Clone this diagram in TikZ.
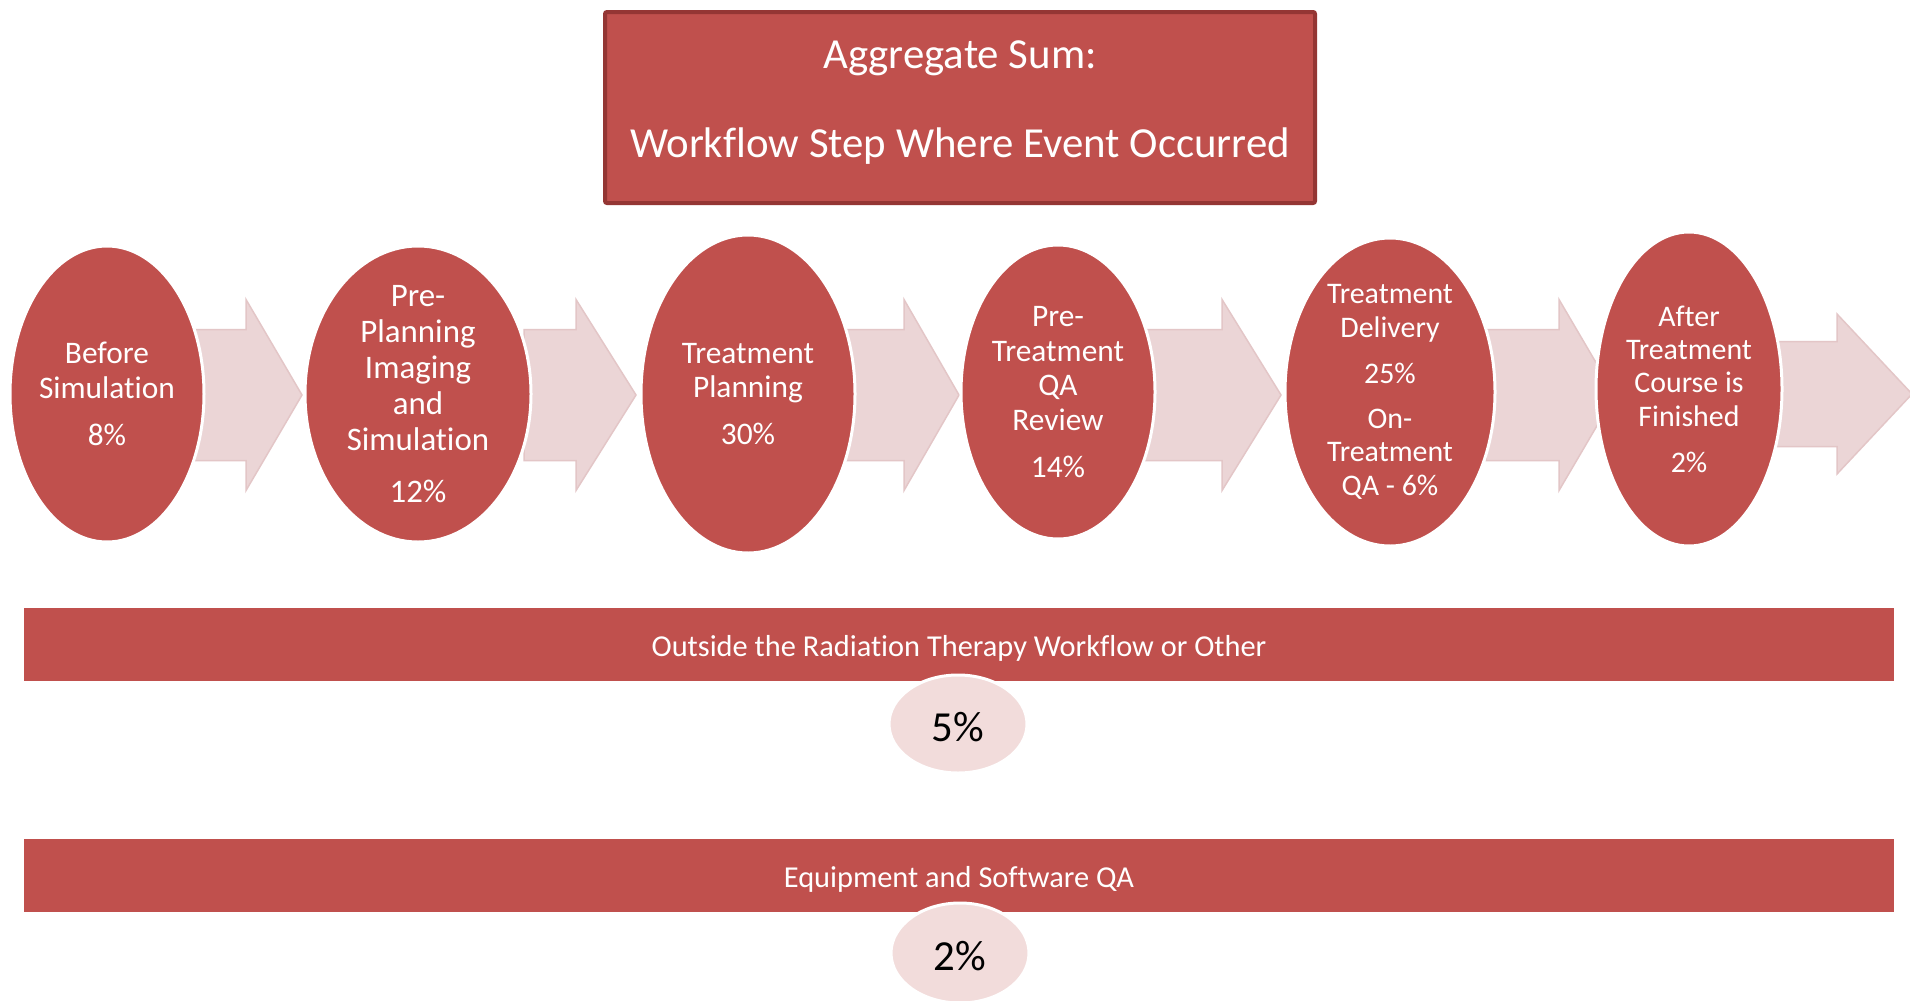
\documentclass[tikz,border=0pt]{standalone}
\usepackage{fontspec}
\setmainfont{Carlito}[Ligatures=NoCommon]
\usetikzlibrary{shapes.geometric}
\definecolor{redfill}{HTML}{C0504D}
\definecolor{redline}{HTML}{943634}
\definecolor{arrfill}{HTML}{EBD5D6}
\definecolor{arrline}{HTML}{E3C6C7}
\definecolor{pinkfill}{HTML}{F2DCDB}
\newcommand{\wfarrow}[6]{% start, base, tip, cy, shafthalf, headhalf
  \draw[flowarrow] (#1,#4-#5) -- (#2,#4-#5) -- (#2,#4-#6) -- (#3,#4) -- (#2,#4+#6) -- (#2,#4+#5) -- (#1,#4+#5) -- cycle;}
\begin{document}
\begin{tikzpicture}[x=1bp,y=-1bp,
  stage/.style={ellipse, fill=redfill, draw=white, line width=3bp, inner sep=0pt},
  stagetext/.style={text=white, align=center, font=\fontsize{31.5}{35}\selectfont, inner sep=0pt},
  flowarrow/.style={fill=arrfill, draw=arrline, line width=1.5bp},
  band/.style={rectangle, fill=redfill, inner sep=0pt, text=white, font=\fontsize{30.5}{36}\selectfont,
               minimum width=1870bp, minimum height=73bp, text height=31bp, text depth=6.5bp},
  share/.style={ellipse, fill=pinkfill, draw=white, line width=3bp, inner sep=0pt,
                font=\fontsize{43}{50}\selectfont, text=black, text height=35bp, text depth=0bp}
]
\path[fill=white] (0,0) rectangle (1910,1000);
\clip (0,0) rectangle (1910,1000);

% title
\node[rectangle, fill=redfill, draw=redline, line width=4bp, rounded corners=2bp,
      minimum width=710bp, minimum height=191bp] (title) at (960,107.5) {};
\node[text=white, align=center, inner sep=0pt, font=\fontsize{43}{52}\selectfont]
      (titletext) at ([yshift=5bp]title.center)
      {Aggregate Sum:\\[37bp]Workflow Step Where Event Occurred};

% arrows
\wfarrow{195}{246}{302}{395}{65.5}{95.5}
\wfarrow{524}{576}{636}{395}{65.5}{95.5}
\wfarrow{846}{904}{959}{395}{65.5}{95.5}
\wfarrow{1145}{1222}{1281}{395}{65.5}{95.5}
\wfarrow{1486}{1559}{1615}{395}{65.5}{95.5}
\wfarrow{1772}{1837}{1912}{394}{52.5}{80}

% stages
\node[stage, minimum width=194bp, minimum height=296bp] (e1) at (107,394) {};
\node[stage, minimum width=226bp, minimum height=296bp] (e2) at (418,394) {};
\node[stage, minimum width=214bp, minimum height=318bp] (e3) at (748,394) {};
\node[stage, minimum width=194bp, minimum height=294bp] (e4) at (1058,392) {};
\node[stage, minimum width=210bp, minimum height=308bp] (e5) at (1390,392) {};
\node[stage, minimum width=186bp, minimum height=314bp] (e6) at (1689,389) {};

\node[stagetext] (t1) at (e1.center) {Before\\Simulation\\[12bp]8\%};
\node[stagetext, font=\fontsize{33}{36.2}\selectfont] (t2) at (e2.center)
  {Pre-\\Planning\\Imaging\\and\\Simulation\\[16bp]12\%};
\node[stagetext] (t3) at (e3.center) {Treatment\\Planning\\[12bp]30\%};
\node[stagetext] (t4) at (e4.center) {Pre-\\Treatment\\QA\\Review\\[12bp]14\%};
\node[stagetext, font=\fontsize{30}{34}\selectfont] (t5) at (e5.center)
  {Treatment\\Delivery\\[12bp]25\%\\[11bp]On-\\Treatment\\QA - 6\%};
\node[stagetext, font=\fontsize{30}{33.5}\selectfont] (t6) at (e6.center)
  {After\\Treatment\\Course is\\Finished\\[12.5bp]2\%};

% bands
\node[band] (b1) at (959,644.5) {Outside the Radiation Therapy Workflow or Other};
\node[share, minimum width=138bp, minimum height=98bp] (p1) at (958,724) {5\%};
\node[band] (b2) at (959,875) {Equipment and Software QA};
\node[share, minimum width=138bp, minimum height=100bp] (p2) at (960,953) {2\%};
\end{tikzpicture}
\end{document}
